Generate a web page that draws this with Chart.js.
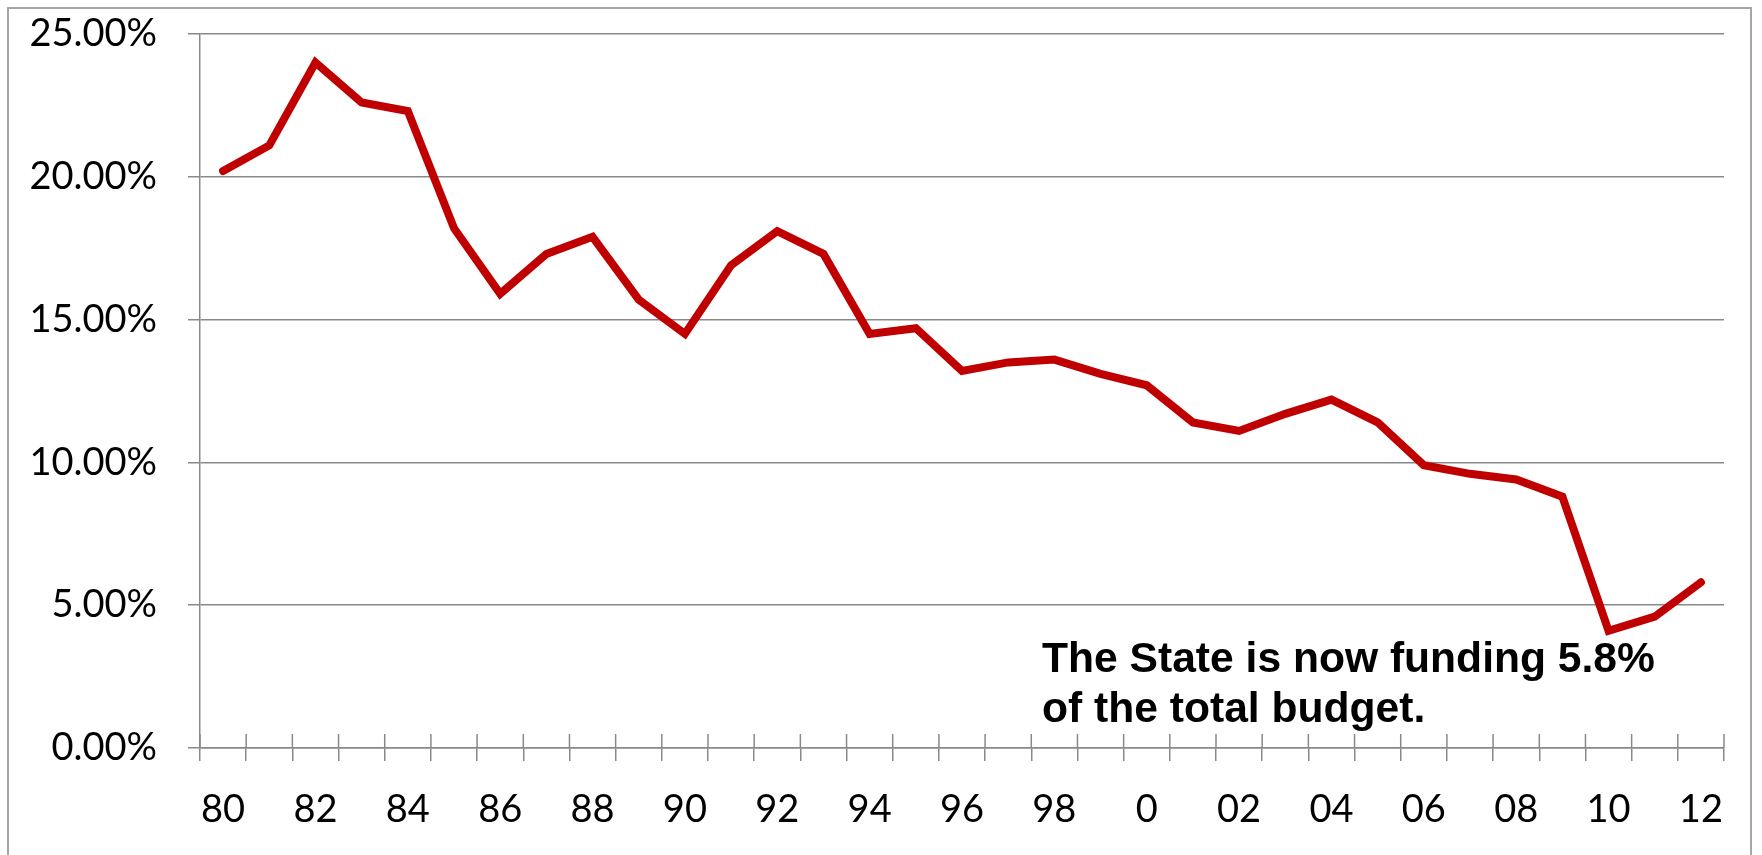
<!DOCTYPE html>
<html lang="en">
<head>
    <meta charset="UTF-8">
    <title>State funding share</title>
    <script src="https://cdn.jsdelivr.net/npm/chart.js"></script>
    <style>
        body { margin: 0; background: #fff; }
        #wrap { position: relative; width: 1762px; height: 855px; overflow: hidden; }
        #frame { position: absolute; left: 7px; top: 7px; width: 1745px; height: 900px; border: 2px solid #a6a6a6; box-sizing: border-box; }
        canvas { position: absolute; left: 0; top: 0; }
        #note { position: absolute; left: 1042px; top: 632px; font-family: "Liberation Sans", Arial, sans-serif; font-weight: bold; font-size: 42.6px; line-height: 50px; color: #000; white-space: nowrap; }
    </style>
</head>
<body>
<div id="wrap">
    <div id="frame"></div>
    <canvas id="chart" width="1762" height="855"></canvas>
    <div id="note">The State is now funding 5.8%<br>of the total budget.</div>
</div>

<script>
    // years 1980 - 2012, Excel shows every other label
    const years = ["80","81","82","83","84","85","86","87","88","89",
                   "90","91","92","93","94","95","96","97","98","99",
                   "0","01","02","03","04","05","06","07","08","09",
                   "10","11","12"];
    // state share of total budget, in percent
    const stateShare = [20.2, 21.1, 24.0, 22.6, 22.3, 18.2, 15.9, 17.3, 17.9, 15.7,
                        14.5, 16.9, 18.1, 17.3, 14.5, 14.7, 13.2, 13.5, 13.6, 13.1,
                        12.7, 11.4, 11.1, 11.7, 12.2, 11.4, 9.9, 9.6, 9.4, 8.8,
                        4.1, 4.6, 5.8];
    const yTicks = [0, 5, 10, 15, 20, 25];

    const gridColor = "#898989";

    // Excel style "cross" tick marks: the part above the category axis
    const crossTicks = {
        id: "crossTicks",
        afterDraw(chart) {
            const x = chart.scales.x;
            const ctx = chart.ctx;
            const w = x.getPixelForValue(1) - x.getPixelForValue(0);
            const y0 = chart.chartArea.bottom;
            ctx.save();
            ctx.strokeStyle = gridColor;
            ctx.lineWidth = 1.5;
            ctx.beginPath();
            for (let i = 0; i <= years.length; i++) {
                const px = x.getPixelForValue(i) - w / 2;
                ctx.moveTo(px, y0);
                ctx.lineTo(px, y0 - 14);
            }
            ctx.stroke();
            ctx.restore();
        }
    };

    new Chart(document.getElementById("chart"), {
        type: "line",
        data: {
            labels: years,
            datasets: [{
                data: stateShare,
                borderColor: "#c00000",
                borderWidth: 8,
                pointRadius: 0,
                tension: 0,
                borderCapStyle: "round",
                borderJoinStyle: "miter"
            }]
        },
        options: {
            responsive: false,
            animation: false,
            layout: { padding: { top: 34, right: 38, left: 0, bottom: 0 } },
            plugins: { legend: { display: false }, tooltip: { enabled: false } },
            scales: {
                x: {
                    offset: true,
                    afterFit: s => { s.height = 107; },
                    grid: { offset: true, drawOnChartArea: false, color: gridColor, lineWidth: 1.5, tickLength: 13 },
                    border: { color: gridColor, width: 1.5 },
                    ticks: {
                        autoSkip: false,
                        maxRotation: 0,
                        padding: 26,
                        color: "#000",
                        font: { family: "Lato", size: 38 },
                        callback: (v, i) => i % 2 === 0 ? years[i] : ""
                    }
                },
                y: {
                    min: 0,
                    max: 25,
                    afterFit: s => { s.width = 200; s.paddingTop = 0; s.paddingBottom = 0; },
                    afterBuildTicks: s => { s.ticks = yTicks.map(v => ({ value: v })); },
                    grid: { color: gridColor, lineWidth: 1.5, tickLength: 12 },
                    border: { color: gridColor, width: 1.5 },
                    ticks: {
                        padding: 31,
                        color: "#000",
                        font: { family: "Lato", size: 38 },
                        callback: v => v.toFixed(2) + "%"
                    }
                }
            }
        },
        plugins: [crossTicks]
    });
</script>
</body>
</html>
